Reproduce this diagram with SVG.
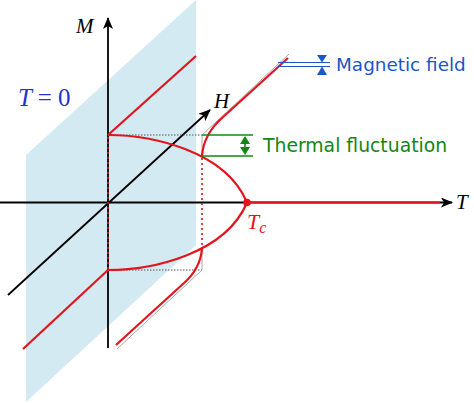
<svg xmlns="http://www.w3.org/2000/svg" width="474" height="403" viewBox="0 0 474 403">
<style>
.ax{stroke:#000;stroke-width:1.8;fill:none}
.red{stroke:#e3141c;stroke-width:2.2;fill:none}
.rdot{stroke:#e3141c;stroke-width:1.6;stroke-dasharray:2 3;fill:none}
.gdot{stroke:#555;stroke-width:1;stroke-dasharray:1.5 1.5;fill:none}
.grey{stroke:#aaa;stroke-width:1;fill:none}
.math{font-family:"Liberation Serif",serif;font-style:italic}
.lbl{font-family:"DejaVu Sans",sans-serif}
</style>
<defs>
<marker id="ah" markerWidth="12" markerHeight="10" viewBox="0 0 12 10" refX="11" refY="5" orient="auto" markerUnits="userSpaceOnUse">
<path d="M0,0 L12,5 L0,10 L3,5 Z" fill="#000"/>
</marker>
</defs>
<g id="plane">
<polygon points="26,155 196,0 196,245 26,402" fill="#d4eaf2"/>
</g>
<g id="connectors">
<line class="ax" x1="0" y1="202.5" x2="452" y2="202.5" marker-end="url(#ah)"/>
<line class="ax" x1="108" y1="348" x2="108" y2="18" marker-end="url(#ah)"/>
<line class="ax" x1="8" y1="295" x2="210" y2="110" marker-end="url(#ah)"/>
<line class="red" x1="247" y1="202.5" x2="440" y2="202.5"/>
<line class="rdot" x1="108" y1="137" x2="108" y2="270"/>
<line class="gdot" x1="108" y1="135" x2="202" y2="135"/>
<line class="gdot" x1="108" y1="270" x2="202" y2="270"/>
<line class="grey" x1="202" y1="135" x2="202" y2="156"/>
<line class="grey" x1="202" y1="248" x2="202" y2="270"/>
<line class="rdot" x1="202" y1="158" x2="202" y2="248"/>
<line class="grey" x1="202" y1="135" x2="289" y2="54"/>
<line class="grey" x1="202" y1="270" x2="117" y2="349"/>
<line class="red" x1="108" y1="135" x2="196" y2="56"/>
<line class="red" x1="108" y1="270" x2="23" y2="349"/>
<path class="red" d="M108,135 C150,135 225,150 247,202.5"/>
<path class="red" d="M108,270 C150,270 225,255 247,202.5"/>
<path class="red" d="M202,156 C203,140 212,127 222,118 L288,58"/>
<path class="red" d="M202,248 C201,264 193,275 184,283 L116,345"/>
<circle cx="247" cy="202.5" r="3.8" fill="#e3141c"/>
</g>
<g id="magnetic-field">
<line x1="278" y1="62.5" x2="330" y2="62.5" stroke="#1a56c7" stroke-width="1.2"/>
<line x1="278" y1="66.5" x2="330" y2="66.5" stroke="#1a56c7" stroke-width="1.2"/>
<polygon points="317,55 327,55 322,62.5" fill="#1a56c7"/>
<polygon points="317,75 327,75 322,66.5" fill="#1a56c7"/>
<text class="lbl" x="336" y="71" font-size="18.4" fill="#1a56c7">Magnetic field</text>
</g>
<g id="thermal-fluctuation">
<line x1="202" y1="135" x2="253" y2="135" stroke="#118811" stroke-width="1.3"/>
<line x1="202" y1="156" x2="253" y2="156" stroke="#118811" stroke-width="1.3"/>
<line x1="245" y1="140" x2="245" y2="151" stroke="#118811" stroke-width="1.6"/>
<polygon points="240,144 250,144 245,136" fill="#118811"/>
<polygon points="240,147 250,147 245,155" fill="#118811"/>
<text class="lbl" x="263" y="152" font-size="18.8" fill="#118811">Thermal fluctuation</text>
</g>
<g id="labels">
<text class="math" x="76" y="33" font-size="21">M</text>
<text class="math" x="214" y="108" font-size="21">H</text>
<text class="math" x="456" y="209" font-size="21">T</text>
<text class="math" x="18" y="106" font-size="25" fill="#2233cc">T <tspan font-style="normal">= 0</tspan></text>
<text class="math" x="247" y="229" font-size="22" fill="#e3141c">T<tspan font-size="16" dy="4">c</tspan></text>
</g>
</svg>
